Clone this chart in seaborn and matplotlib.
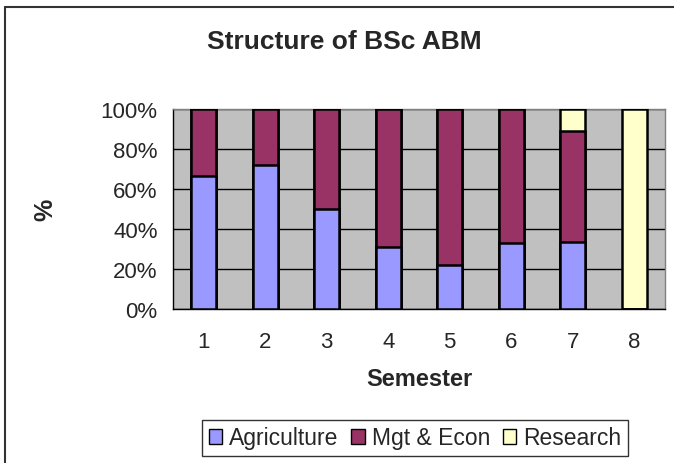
import numpy as np
import pandas as pd
import matplotlib
matplotlib.use("Agg")
import matplotlib.pyplot as plt
from matplotlib.ticker import FixedLocator, FixedFormatter, NullFormatter
from matplotlib.patches import Patch
from matplotlib.lines import Line2D
import seaborn as sns

# share of each semester, in %
semesters = ["1", "2", "3", "4", "5", "6", "7", "8"]
agriculture = [66.7, 72, 50, 31, 22, 33, 33.3, 0]
mgt_econ = [33.3, 28, 50, 69, 78, 67, 55.6, 0]
research = [0, 0, 0, 0, 0, 0, 11.1, 100]

series = ["Agriculture", "Mgt & Econ", "Research"]
colors = ["#9999FF", "#993366", "#FFFFCC"]

sns.set_style("white")
plt.rcParams["font.family"] = ["Liberation Sans", "DejaVu Sans"]

df = pd.DataFrame({"Semester": semesters,
                   "Agriculture": agriculture,
                   "Mgt & Econ": mgt_econ,
                   "Research": research})
# cumulative tops, drawn from the top layer down so lower ones sit in front
cum = df[series].cumsum(axis=1)

fig = plt.figure(figsize=(6.74, 4.64), dpi=100)
ax = fig.add_axes([173 / 674, 1 - 310 / 464, 492 / 674, 200 / 464])
ax.set_facecolor("#C0C0C0")

for name, col in zip(series[::-1], colors[::-1]):
    sns.barplot(x=df["Semester"], y=cum[name], color=col, width=0.4,
                edgecolor="black", linewidth=1.8, saturation=1, ax=ax, zorder=3)

ax.set_xlim(-0.5, 7.5)
ax.set_ylim(0, 100)
ax.yaxis.grid(True, color="black", linewidth=1, zorder=0)
ax.set_axisbelow(True)
ax.set_yticks([0, 20, 40, 60, 80, 100])
ax.set_yticklabels([f"{v}%" for v in range(0, 101, 20)], fontsize=16)

ax.xaxis.set_major_locator(FixedLocator(np.arange(-0.5, 8, 1)))
ax.xaxis.set_major_formatter(NullFormatter())
ax.xaxis.set_minor_locator(FixedLocator(np.arange(8)))
ax.xaxis.set_minor_formatter(FixedFormatter(semesters))
ax.tick_params(axis="x", which="major", length=5, width=1, color="black", direction="out")
ax.tick_params(axis="x", which="minor", length=0, labelsize=16, pad=16)
ax.tick_params(axis="y", length=6, width=1, color="black", direction="out", pad=5)

for s in ["left", "bottom"]:
    ax.spines[s].set_color("black")
    ax.spines[s].set_linewidth(1)
for s in ["top", "right"]:
    ax.spines[s].set_color("#808080")
    ax.spines[s].set_linewidth(1)

ax.set_xlabel("Semester", fontsize=17, fontweight="bold", labelpad=11)
ax.set_ylabel("%", fontsize=18, fontweight="bold", labelpad=31)

fig.text(344 / 674, 1 - 42 / 464, "Structure of BSc ABM", ha="center", va="center",
         fontsize=19, fontweight="bold")

handles = [Patch(facecolor=c, edgecolor="black", linewidth=1) for c in colors]
leg = fig.legend(handles, series, loc="center", bbox_to_anchor=(415 / 674, 1 - 439 / 464),
                 ncol=3, fontsize=16.5, frameon=True, fancybox=False, handlelength=0.6,
                 handleheight=0.6, handletextpad=0.3, columnspacing=0.55,
                 borderpad=0.3, edgecolor="black")
leg.get_frame().set_linewidth(1)

# outer chart border (left and top only visible)
fig.add_artist(Line2D([5 / 674, 5 / 674], [0, 1 - 8 / 464], color="#333333", linewidth=1.5))
fig.add_artist(Line2D([5 / 674, 1], [1 - 8 / 464, 1 - 8 / 464], color="#333333", linewidth=1.5))

fig.savefig("out.png", dpi=100)
